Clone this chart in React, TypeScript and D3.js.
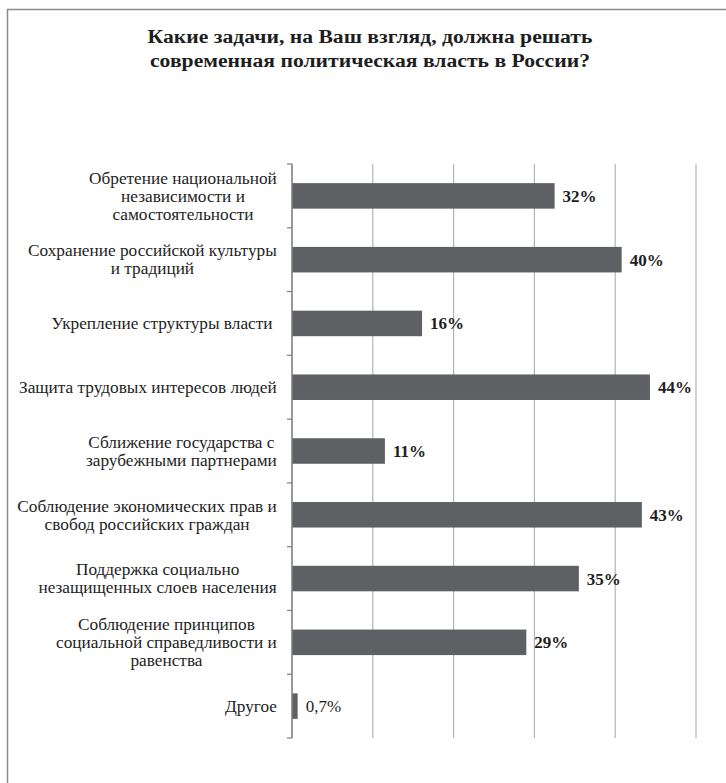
import * as React from 'react';
import * as d3 from 'd3';

const TITLE = ['Какие задачи, на Ваш взгляд, должна решать', 'современная политическая власть в России?'];

const CATEGORIES = [
    ['Обретение национальной', 'независимости и', 'самостоятельности'],
    ['Сохранение российской культуры', 'и традиций'],
    ['Укрепление структуры власти '],
    ['Защита трудовых интересов людей'],
    ['Сближение государства с', 'зарубежными партнерами'],
    ['Соблюдение экономических прав и', 'свобод российских граждан'],
    ['Поддержка социально', 'незащищенных слоев населения'],
    ['Соблюдение принципов', 'социальной справедливости и', 'равенства'],
    ['Другое']
];

// bar lengths
const VALUES = [32.5, 40.8, 16.1, 44.3, 11.5, 43.3, 35.5, 29, 0.7];
const VALUE_LABELS = ['32%', '40%', '16%', '44%', '11%', '43%', '35%', '29%', '0,7%'];
const BOLD_LABEL = [true, true, true, true, true, true, true, true, false];

const GRID_TICKS = [10, 20, 30, 40, 50];

const FONT = "'Liberation Serif', monospace";
const INK = '#1e1e1e';

const W = 726;
const H = 783;
const TOP = 164;
const BOTTOM = 738;
const LEFT = 292;
const RIGHT = 696;
const LABEL_RIGHT = 277;
const LINE_H = 18;
const TITLE_X = 370;

const x = d3.scaleLinear().domain([0, 50]).range([LEFT, RIGHT]);
const y = d3.scaleBand<number>()
    .domain(CATEGORIES.map((_, i) => i))
    .range([TOP, BOTTOM])
    .paddingInner(0.6)
    .paddingOuter(0.3);

const App: React.FC = () => {
    const svgRef = React.useRef<SVGSVGElement>(null);

    // multi-line labels: lines centred on each other, block right-aligned;
    // the reference text is a little wider than the font, so stretch it
    React.useEffect(() => {
        const svg = d3.select(svgRef.current);
        const cats = svg.select<SVGGElement>('g.cats');
        CATEGORIES.forEach((lines, i) => {
            const texts = cats.selectAll<SVGTextElement, unknown>(`text[data-row="${i}"]`);
            const widths = texts.nodes().map((n) => n.getComputedTextLength());
            const maxW = d3.max(widths) || 0;
            const center = LABEL_RIGHT - maxW / 2;
            texts.attr('x', (_, j) => center - widths[j] / 2);
        });
        const ref = cats.select<SVGTextElement>('text[data-row="3"]').node();
        if (ref) {
            const sx = 258 / ref.getComputedTextLength();
            cats.attr('transform', `translate(${LABEL_RIGHT},0) scale(${sx},1) translate(${-LABEL_RIGHT},0)`);
        }
        const t = svg.select<SVGTextElement>('text.title').node();
        if (t) {
            const first = t.querySelector('tspan') as SVGTSpanElement;
            const sx = 445 / first.getComputedTextLength();
            d3.select(t).attr('transform', `translate(${TITLE_X},0) scale(${sx},1) translate(${-TITLE_X},0)`);
        }
    });

    return (
        <svg
            ref={svgRef}
            width={W}
            height={H}
            style={{ position: 'absolute', left: 0, top: 0, background: '#fff' }}
        >
            <path d={`M7.5,${H + 5} L7.5,9.5 L${W + 5},9.5`} fill="none" stroke="#8c8c8c" strokeWidth={1.5} />

            <text
                className="title"
                textAnchor="middle"
                style={{ fontFamily: FONT, fontWeight: 'bold', fontSize: 19.5 }}
                fill={INK}
            >
                {TITLE.map((line, i) => (
                    <tspan key={i} x={TITLE_X} y={43 + i * 24}>
                        {line}
                    </tspan>
                ))}
            </text>

            <g>
                {GRID_TICKS.map((d) => (
                    <line key={d} x1={x(d)} x2={x(d)} y1={TOP} y2={BOTTOM} stroke="#b3b3b3" strokeWidth={1.2} />
                ))}
            </g>

            <g>
                {VALUES.map((v, i) => (
                    <rect key={i} x={x(0)} y={y(i)} width={x(v) - x(0)} height={y.bandwidth()} fill="#5f6064" />
                ))}
            </g>

            <g>
                <line x1={x(0)} x2={x(0)} y1={TOP} y2={BOTTOM} stroke="#7f7f7f" strokeWidth={1.6} />
                {d3.range(CATEGORIES.length + 1).map((i) => (
                    <line
                        key={i}
                        x1={x(0) - 5}
                        x2={x(0)}
                        y1={TOP + i * y.step()}
                        y2={TOP + i * y.step()}
                        stroke="#7f7f7f"
                        strokeWidth={1.2}
                    />
                ))}
            </g>

            <g className="cats">
                {CATEGORIES.map((lines, i) => {
                    const cy = y(i)! + y.bandwidth() / 2;
                    return lines.map((line, j) => (
                        <text
                            key={`${i}-${j}`}
                            data-row={i}
                            x={LABEL_RIGHT}
                            y={cy + (j - (lines.length - 1) / 2) * LINE_H}
                            dy="0.35em"
                            style={{ fontFamily: FONT, fontSize: 16.5, whiteSpace: 'pre' }}
                            fill={INK}
                        >
                            {line}
                        </text>
                    ));
                })}
            </g>

            <g>
                {VALUES.map((v, i) => (
                    <text
                        key={i}
                        x={x(v) + 8}
                        y={y(i)! + y.bandwidth() / 2}
                        dy="0.35em"
                        style={{ fontFamily: FONT, fontSize: 17, fontWeight: BOLD_LABEL[i] ? 'bold' : 'normal' }}
                        fill={INK}
                    >
                        {VALUE_LABELS[i]}
                    </text>
                ))}
            </g>
        </svg>
    );
};

export default App;
